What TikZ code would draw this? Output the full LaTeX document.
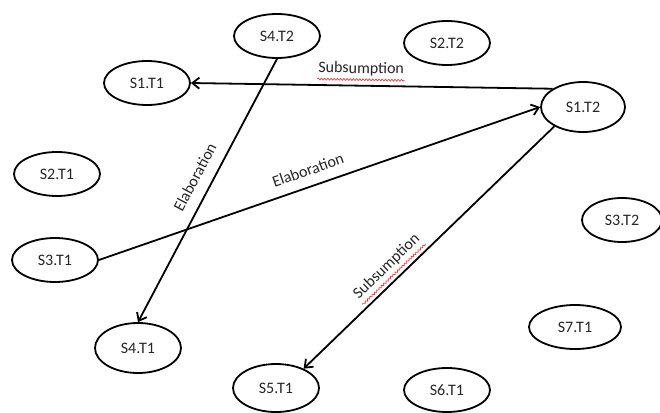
\documentclass[tikz,border=0pt]{standalone}
\usepackage{fontspec}
\setmainfont{Carlito}
\usetikzlibrary{shapes.geometric,arrows.meta,decorations.pathmorphing}
\definecolor{inkgray}{RGB}{38,38,38}
\definecolor{spellred}{RGB}{230,60,60}
\begin{document}
\begin{tikzpicture}[x=1pt,y=-1pt,
  every node/.style={font=\fontsize{16}{19}\selectfont, text=inkgray},
  topic/.style={draw=black, line width=1.8pt, ellipse, inner sep=0pt,
    minimum width=86pt, minimum height=44pt},
  rel/.style={draw=black, line width=1.8pt, -{Straight Barb[length=7pt,width=11pt]}},
  rellabel/.style={sloped, inner xsep=0pt, inner ysep=1.5pt,
    text height=11pt, text depth=4pt},
  squiggle/.style={draw=spellred, line width=0.7pt,
    decorate, decoration={snake, amplitude=0.9pt, segment length=3.2pt}}]
  \useasboundingbox (0,0) rectangle (660,412);

  % topic nodes
  \node[topic] (s42) at (277,36)  {S4.T2};
  \node[topic] (s22) at (447,43)  {S2.T2};
  \node[topic] (s11) at (147,83)  {S1.T1};
  \node[topic, minimum width=84pt, minimum height=50pt] (s12) at (583,107) {S1.T2};
  \node[topic] (s21) at (57,174)  {S2.T1};
  \node[topic] (s31) at (55,260)  {S3.T1};
  \node[topic, minimum width=80pt] (s32) at (622,220) {S3.T2};
  \node[topic, minimum width=92pt] (s71) at (575,327) {S7.T1};
  \node[topic, minimum height=50pt] (s41) at (138,348) {S4.T1};
  \node[topic, minimum height=48pt] (s51) at (276,388) {S5.T1};
  \node[topic] (s61) at (447,390) {S6.T1};

  % relations
  \draw[rel] (s12.149) -- node[rellabel, pos=0.53, above=6pt] (lsub1) {Subsumption} (s11.east);
  \draw[rel] (s31.east) -- node[rellabel, pos=0.486, above=4.5pt] (lel1) {Elaboration} (s12.west);
  \draw[rel] (s42.south) -- node[rellabel, pos=0.48, above=5.5pt] (lel2) {Elaboration} (s41.north);
  \draw[rel] (s12.214) -- node[rellabel, pos=0.625, above=5pt] (lsub2) {Subsumption} (s51.35);

  % spell-check underlines
  \draw[squiggle] (lsub1.south west) -- (lsub1.south east);
  \draw[squiggle] (lsub2.south west) -- (lsub2.south east);
\end{tikzpicture}
\end{document}
